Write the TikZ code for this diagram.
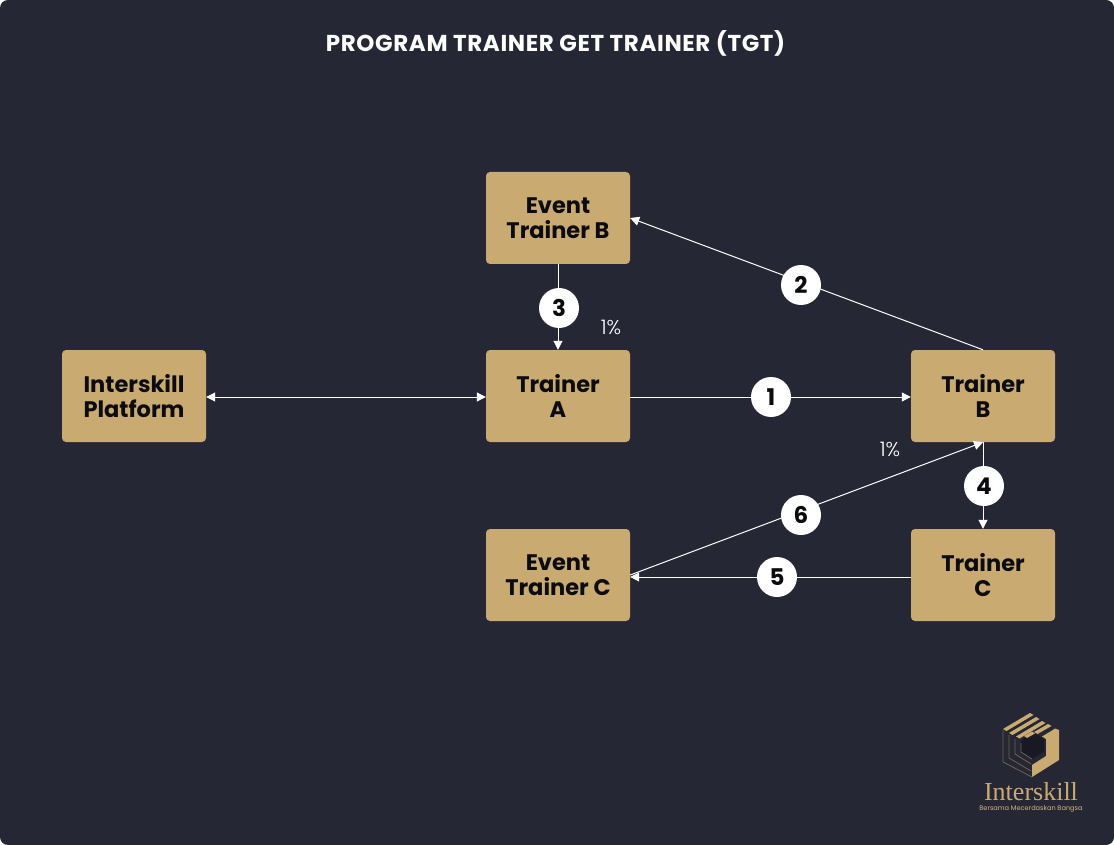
\documentclass[tikz,border=0pt]{standalone}
\usepackage{fontspec}
\setmainfont{Poppins}
\newfontfamily\logoserif{Liberation Serif}
\newfontfamily\pctfont{Poppins Light}
\usetikzlibrary{arrows.meta}
\definecolor{bgdark}{HTML}{252734}
\definecolor{gold}{HTML}{C9AB72}
\definecolor{ink}{HTML}{0B0B10}
\tikzset{
 x=1pt,y=-1pt,
 box/.style={fill=gold,rounded corners=4pt,minimum width=144pt,minimum height=92pt,inner sep=0pt,align=center,text=ink,font=\fontsize{22.5}{25}\selectfont\bfseries},
 link/.style={draw=white,line width=1pt,-{Triangle[width=9pt,length=9pt]}},
 twolink/.style={draw=white,line width=1pt,{Triangle[width=9pt,length=9pt]}-{Triangle[width=9pt,length=9pt]}},
 badge/.style={circle,fill=white,minimum size=40pt,inner sep=0pt,text=ink,font=\fontsize{23}{25}\selectfont\bfseries},
 pct/.style={text=white,inner sep=0pt,font=\pctfont\fontsize{20}{22}\selectfont},
 logogold/.style={fill=gold,draw=none},
 logoline/.style={draw=gold!45!bgdark,line width=0.8pt,fill=none},
}
\begin{document}
\begin{tikzpicture}
\useasboundingbox (0,0) rectangle (1114,845);
\fill[white] (0,0) rectangle (1114,845);
\fill[bgdark,rounded corners=8pt] (0,0) rectangle (1114,845);
\node[text=white,inner sep=0pt,font=\fontsize{23}{25}\selectfont\bfseries\addfontfeatures{LetterSpace=2.7}] (title) at (555.5,43) {PROGRAM TRAINER GET TRAINER (TGT)};
\node[box] (eb) at (558,218) {Event\\Trainer B};
\node[box] (ta) at (558,396) {Trainer\\A};
\node[box] (ip) at (134,396) {Interskill\\Platform};
\node[box] (tb) at (983,396) {Trainer\\B};
\node[box] (tc) at (983,575) {Trainer\\C};
\node[box] (ec) at (558,575) {Event\\Trainer C};
\draw[twolink] ([yshift=-1pt]ip.east) -- ([yshift=-1pt]ta.west);
\draw[link] ([yshift=-1pt]ta.east) -- ([yshift=-1pt]tb.west);
\draw[link] (tb.north) -- (eb.east);
\draw[link] (eb.south) -- (ta.north);
\draw[link] (tb.south) -- (tc.north);
\draw[link] ([yshift=-2pt]tc.west) -- ([yshift=-2pt]ec.east);
\draw[link] (ec.east) -- (tb.south);
\node[badge] (b1) at (771,397) {1};
\node[badge] (b2) at (801,285) {2};
\node[badge] (b3) at (559,308) {3};
\node[badge] (b4) at (984,486) {4};
\node[badge] (b5) at (777,577) {5};
\node[badge] (b6) at (801,515) {6};
\node[pct] (p1) at (611,327) {1\%};
\node[pct] (p2) at (890,449) {1\%};
% logo
\fill[black!35!bgdark] (1021,741) -- (1021,752) -- (1032,759) -- (1044,752) -- (1044,739) -- (1032,732) -- cycle;
\draw[logoline] (1003,730) -- (1003,762) -- (1032,777);
\draw[logoline] (1009,735) -- (1009,758) -- (1031,771);
\draw[logoline] (1015,739) -- (1015,754) -- (1031,764);
\draw[logoline] (1021,743) -- (1021,752) -- (1032,759);
\fill[logogold] (1059,730) -- (1059,760) -- (1032,777) -- (1032,765) -- (1046,756) -- (1046,739) -- (1042,736.5) -- (1052,730.5) -- (1055,728.5) -- cycle;
\fill[logogold] (1003,729) -- (1030,713) -- (1033.5,715) -- (1006.5,731) -- cycle;
\fill[logogold] (1009,733) -- (1036,717) -- (1039.5,719) -- (1012.5,735) -- cycle;
\fill[logogold] (1016,736.5) -- (1042,721) -- (1045.5,723) -- (1019.5,738.5) -- cycle;
\fill[logogold] (1034,732) -- (1048,724) -- (1051.5,726) -- (1037.5,734) -- cycle;
\fill[logogold] (1024,736) -- (1032,731.5) -- (1035,733.5) -- (1027,738) -- cycle;
\node[text=gold,inner sep=0pt,font=\logoserif\fontsize{26}{28}\selectfont] (brand) at (1031,792) {Interskill};
\node[text=gold!85!white,inner sep=0pt,font=\fontsize{6.6}{8}\selectfont] (tag) at (1031,809) {Bersama Mecerdaskan Bangsa};
\end{tikzpicture}
\end{document}
